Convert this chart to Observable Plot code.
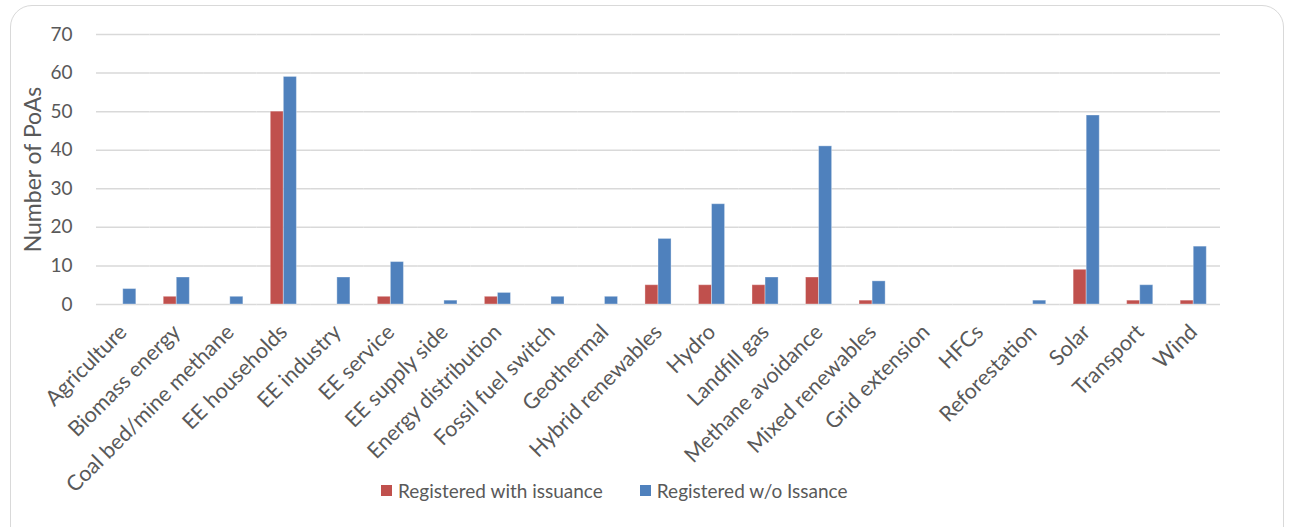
<!DOCTYPE html>
<html>
<head>
<meta charset="utf-8">
<script src="https://cdn.jsdelivr.net/npm/d3@7"></script>
<script src="https://cdn.jsdelivr.net/npm/@observablehq/plot@0.6"></script>
<style>
  html, body { margin: 0; padding: 0; background: #fff; width: 1289px; height: 527px; overflow: hidden; }
  #frame { position: absolute; left: 10px; top: 5px; width: 1274px; height: 560px; border: 1.5px solid #d9d9d9; border-radius: 22px; box-sizing: border-box; }
  #chart { position: absolute; left: 0; top: 0; }
  #chart svg { overflow: visible; }
  #legend { position: absolute; top: 479px; left: 381px; display: flex; align-items: center; font-family: Lato, sans-serif; font-size: 19px; color: #595959; z-index: 2; }
  .sw { width: 11px; height: 11px; display: inline-block; margin-right: 6px; }
  .item { display: flex; align-items: center; margin-right: 37px; }
</style>
</head>
<body>
<div id="frame"></div>
<div id="chart"></div>
<div id="legend"></div>
<script>
const categories = ["Agriculture", "Biomass energy", "Coal bed/mine methane", "EE households", "EE industry", "EE service", "EE supply side", "Energy distribution", "Fossil fuel switch", "Geothermal", "Hybrid renewables", "Hydro", "Landfill gas", "Methane avoidance", "Mixed renewables", "Grid extension", "HFCs", "Reforestation", "Solar", "Transport", "Wind"];
const seriesNames = ["Registered with issuance", "Registered w/o Issance"];
const withIssuance = [0, 2, 0, 50, 0, 2, 0, 2, 0, 0, 5, 5, 5, 7, 1, 0, 0, 0, 9, 1, 1];
const withoutIssuance = [4, 7, 2, 59, 7, 11, 1, 3, 2, 2, 17, 26, 7, 41, 6, 0, 0, 1, 49, 5, 15];
const seriesColors = ["#C0504D", "#4F81BD"];
const yTicks = [0, 10, 20, 30, 40, 50, 60, 70];

const data = [];
categories.forEach((c, i) => {
  data.push({category: c, series: seriesNames[0], value: withIssuance[i]});
  data.push({category: c, series: seriesNames[1], value: withoutIssuance[i]});
});

const chart = Plot.plot({
  width: 1289,
  height: 527,
  marginTop: 34,
  marginBottom: 223,
  marginLeft: 96,
  marginRight: 69,
  style: {fontFamily: "Lato, sans-serif", color: "#595959", background: "transparent", overflow: "visible"},
  fx: {domain: categories, padding: 0, round: false, label: null},
  x: {domain: seriesNames, paddingInner: 0, paddingOuter: 1.05, round: false, axis: null},
  y: {domain: [0, 70], label: null},
  color: {domain: seriesNames, range: seriesColors},
  marks: [
    Plot.gridY(yTicks, {stroke: "#d9d9d9", strokeOpacity: 1, strokeWidth: 1.5}),
    Plot.barY(data, {fx: "category", x: "series", y: "value", fill: "series", stroke: "#ffffff", strokeOpacity: 0.35, strokeWidth: 1}),
    Plot.axisY(yTicks, {tickSize: 0, tickPadding: 24, fontSize: 19, label: null, fill: "#595959"}),
    Plot.axisFx({anchor: "bottom", tickSize: 0, tickRotate: -45, tickPadding: 24, fontSize: 21.5, label: null, fill: "#595959"}),
    Plot.text(["Number of PoAs"], {frameAnchor: "left", dx: -63, rotate: -90, textAnchor: "middle", fontSize: 23, fill: "#595959", facetAnchor: "left"})
  ]
});
document.getElementById("chart").appendChild(chart);

const legend = document.getElementById("legend");
seriesNames.forEach((s, i) => {
  const item = document.createElement("div");
  item.className = "item";
  const sw = document.createElement("span");
  sw.className = "sw";
  sw.style.background = seriesColors[i];
  const t = document.createElement("span");
  t.textContent = s;
  item.appendChild(sw);
  item.appendChild(t);
  legend.appendChild(item);
});
</script>
</body>
</html>
